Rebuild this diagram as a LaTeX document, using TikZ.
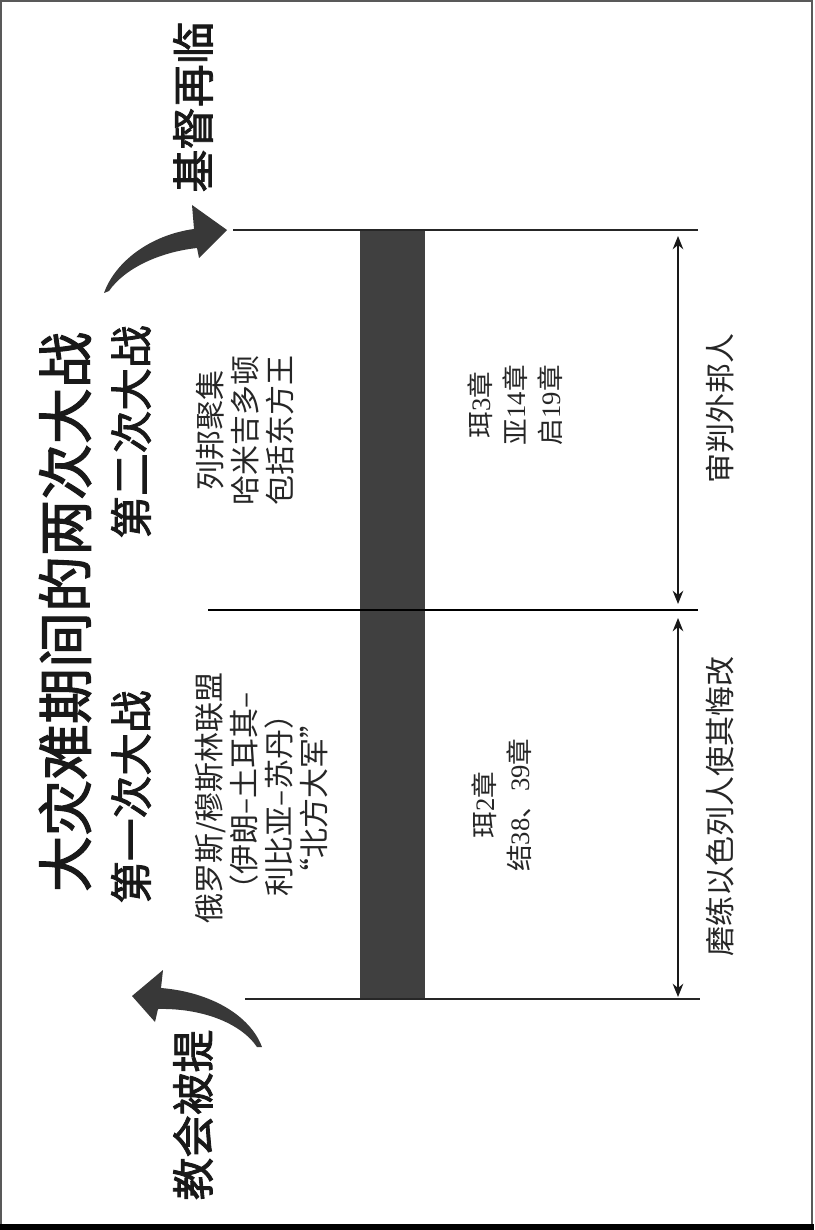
\documentclass[tikz,border=0pt]{standalone}
\usepackage{fontspec}
\setmainfont{Noto Sans CJK SC}
\newfontfamily\hdfont[FakeBold=2]{Noto Sans CJK SC}
\newfontfamily\ser{Liberation Serif}
\usetikzlibrary{arrows.meta}
\tikzset{
 ttl/.style={font=\hdfont\fontsize{42}{50}\selectfont, rotate=90, inner sep=0, text=black!90},
 hd/.style={font=\hdfont\fontsize{32}{38}\selectfont, rotate=90, inner sep=0, text=black!90},
 txt/.style={font=\fontsize{22.5}{26.25}\selectfont, rotate=90, align=center, inner sep=0, text=black!85},
 refs/.style={font=\fontsize{20}{26.25}\selectfont, rotate=90, align=center, inner sep=0, text=black!85},
 hline/.style={line width=0.8pt, draw=black!85},
 dim/.style={line width=1pt, draw=black!90, {Stealth[length=10pt,width=8pt]}-{Stealth[length=10pt,width=8pt]}},
 bigarrow/.style={fill=black!78},
 bar/.style={fill=black!75, draw=none},
}
\begin{document}
\begin{tikzpicture}[x=0.75pt,y=-0.75pt]
\useasboundingbox (0,0) rectangle (814,1230);
% frame
\draw[black!65, line width=1.5pt] (1,1) rectangle (812,1226);
\draw[black, line width=4.5pt] (0,1227) -- (814,1227);

% bar
\fill[bar] (360,230) rectangle (425,999);

% horizontal lines
\coordinate (t1) at (233,230); \coordinate (t2) at (698,230);
\coordinate (m1) at (208,610); \coordinate (m2) at (698,610);
\coordinate (b1) at (245,999); \coordinate (b2) at (700,999);
\draw[hline] (t1) -- (t2);
\draw[hline, line width=1pt, draw=black] (m1) -- (m2);
\draw[hline] (b1) -- (b2);

% dimension arrows
\coordinate (u1) at (678,236); \coordinate (u2) at (678,604);
\coordinate (l1) at (678,618); \coordinate (l2) at (678,997);
\draw[dim] (u1) -- (u2);
\draw[dim] (l1) -- (l2);

% texts
\node[ttl] (title) at (65,612) {大灾难期间的两次大战};
\node[hd] (war2) at (131,432) {第二次大战};
\node[hd] (war1) at (131,797) {第一次大战};
\node[hd] (second) at (193,107) {基督再临};
\node[hd] (rapture) at (193,1115) {教会被提};

\node[txt] (w2txt) at (245,430) {列邦聚集\\哈米吉多顿\\包括东方王};
\node[txt] (w1txt) at (262,798) {俄罗斯/穆斯林联盟\\（伊朗–土耳其–\\利比亚–苏丹）\\“北方大军”};

\node[refs] (r2) at (515,405) {珥{\ser 3}章\\亚{\ser 14}章\\启{\ser 19}章};
\node[refs] (r1) at (502,805) {珥{\ser 2}章\\结{\ser 38}、{\ser 39}章};

\node[txt] (judge) at (720,408) {审判外邦人};
\node[txt] (refine) at (720,806) {磨练以色列人使其悔改};

% curved arrows
\fill[bigarrow] (104,293) .. controls (115,262) and (150,235) .. (194,229)
  -- (192,205) -- (227,230) -- (199,258) -- (197,248)
  .. controls (160,252) and (125,268) .. (109,291) -- cycle;
\fill[bigarrow] (262,1047) .. controls (250,1015) and (210,992) .. (161,988)
  -- (163,970) -- (132,996) -- (155,1022) -- (158,1009)
  .. controls (200,1008) and (240,1022) .. (257,1047) -- cycle;
\end{tikzpicture}
\end{document}
